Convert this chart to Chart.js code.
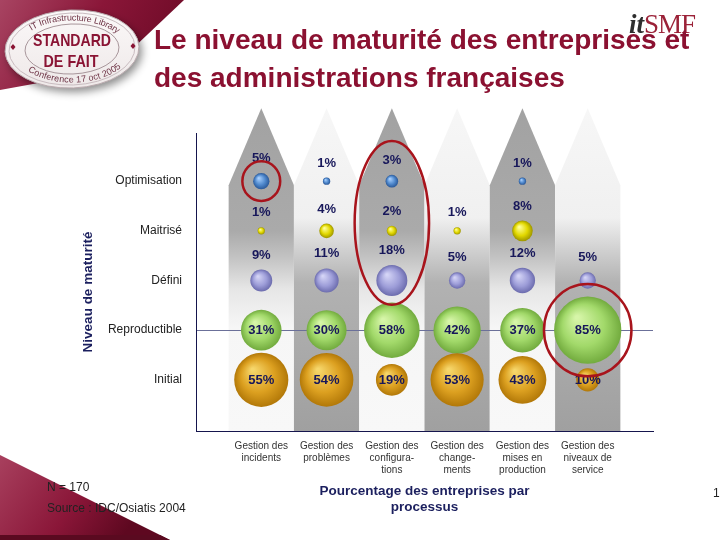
<!DOCTYPE html>
<html><head><meta charset="utf-8">
<script src="https://cdn.jsdelivr.net/npm/chart.js@4.4.0/dist/chart.umd.min.js"></script>
<style>
html,body{margin:0;padding:0;background:#fff;}
#wrap{position:relative;width:720px;height:540px;overflow:hidden;background:#fff;}
canvas{position:absolute;left:0;top:0;}
.t{position:absolute;font-family:"Liberation Sans",Arial,sans-serif;white-space:nowrap;}
#logo{left:629px;top:9px;font-family:"Liberation Serif","DejaVu Serif",serif;font-size:27px;line-height:30px;}
#logo .it{font-weight:bold;font-style:italic;color:#2e2e2e;}
#logo .smf{color:#9b2238;letter-spacing:-1px;}
#title{left:154px;top:21px;font-size:28px;font-weight:bold;line-height:38px;color:#8b1131;}
.note{left:47px;font-size:12px;line-height:14px;color:#222;}
</style></head>
<body>
<div id="wrap">
<canvas id="c" width="720" height="540"></canvas>
<div class="t" id="logo"><span class="it">it</span><span class="smf">SMF</span></div>
<div class="t" id="title">Le niveau de maturité des entreprises et<br>des administrations françaises</div>
<div class="t note" style="top:480px">N = 170</div>
<div class="t note" style="top:501px">Source : IDC/Osiatis 2004</div>
<div class="t note" style="left:713px;top:486px">1</div>
</div>
<script>
// ---- data ----
const categories = [
  ['Gestion des','incidents'],
  ['Gestion des','problèmes'],
  ['Gestion des','configura-','tions'],
  ['Gestion des','change-','ments'],
  ['Gestion des','mises en','production'],
  ['Gestion des','niveaux de','service']
];
const levels = ['Initial','Reproductible','Défini','Maitrisé','Optimisation'];
const optimisation  = [5, 1, 3, null, 1, null];
const maitrise      = [1, 4, 2, 1, 8, null];
const defini        = [9, 11, 18, 5, 12, 5];
const reproductible = [31, 30, 58, 42, 37, 85];
const initial       = [55, 54, 19, 53, 43, 10];

// ---- styling ----
const R_SCALE = 3.65;
const FONT = '"Liberation Sans", Arial, sans-serif';
const NAVY = '#17175a';

function sphere(colors){
  return function(ctx){
    if (ctx.type !== 'data') return colors[1];
    const ch = ctx.chart, xs = ch.scales.x, ys = ch.scales.y, raw = ctx.raw;
    if (!xs || !ys || !raw) return colors[1];
    const x = xs.getPixelForValue(raw.x), y = ys.getPixelForValue(raw.y), r = raw.r;
    if (!isFinite(x) || !isFinite(y) || !(r > 0)) return colors[1];
    const g = ch.ctx.createRadialGradient(x - r*0.32, y - r*0.38, r*0.05, x, y, r);
    g.addColorStop(0, colors[0]);
    g.addColorStop(0.6, colors[1]);
    g.addColorStop(1, colors[2]);
    return g;
  };
}
function points(values, level){
  const out = [];
  values.forEach((v, i) => { if (v != null) out.push({x: i + 1, y: level, r: R_SCALE * Math.sqrt(v), v: v}); });
  return out;
}
const series = [
  {name: 'Initial', values: initial, level: 1, colors: ['#f6d66a', '#dca020', '#b27808'], inside: true},
  {name: 'Reproductible', values: reproductible, level: 2, colors: ['#d6f5a8', '#a2d96a', '#72ab3e'], inside: true},
  {name: 'Défini', values: defini, level: 3, colors: ['#d4d4f6', '#9d9dd8', '#6c6cae'], inside: false},
  {name: 'Maitrisé', values: maitrise, level: 4, colors: ['#ffff9a', '#e2d800', '#9e9600'], inside: false},
  {name: 'Optimisation', values: optimisation, level: 5, colors: ['#a8d0ff', '#4f88cc', '#2a5898'], inside: false}
];

// ---- decoration helpers ----
function arcText(c, txt, cx, cy, a, b, tc, dir){
  const chars = [...txt];
  const widths = chars.map(ch => c.measureText(ch).width);
  const total = widths.reduce((s, w) => s + w, 0);
  const speed = t => Math.hypot(a*Math.sin(t), b*Math.cos(t));
  let t = tc, rem = total/2;
  while (rem > 0){ const d = Math.min(rem, 0.5); t -= dir*d/speed(t); rem -= d; }
  chars.forEach((ch, i) => {
    const w = widths[i];
    t += dir*(w/2)/speed(t);
    const x = cx + a*Math.cos(t), y = cy + b*Math.sin(t);
    const ang = dir > 0 ? Math.atan2(b*Math.cos(t), -a*Math.sin(t)) : Math.atan2(-b*Math.cos(t), a*Math.sin(t));
    c.save(); c.translate(x, y); c.rotate(ang); c.fillText(ch, 0, 0); c.restore();
    t += dir*(w/2)/speed(t);
  });
}
function drawCorners(c){
  c.save();
  let g = c.createLinearGradient(0, 0, 160, 90);
  g.addColorStop(0, '#a84462'); g.addColorStop(0.5, '#8a1638'); g.addColorStop(1, '#6c0a26');
  c.fillStyle = g;
  c.beginPath(); c.moveTo(0,0); c.lineTo(184,0); c.lineTo(110,70); c.lineTo(0,90); c.closePath(); c.fill();
  g = c.createLinearGradient(0, 455, 120, 540);
  g.addColorStop(0, '#a8405e'); g.addColorStop(0.6, '#8a1638'); g.addColorStop(1, '#5e0820');
  c.fillStyle = g;
  c.beginPath(); c.moveTo(0,455); c.lineTo(170,540); c.lineTo(0,540); c.closePath(); c.fill();
  c.fillStyle = '#5a0a20'; c.beginPath(); c.moveTo(0,535); c.lineTo(160,535); c.lineTo(170,540); c.lineTo(0,540); c.closePath(); c.fill();
  // badge
  const cx = 72, cy = 49;
  c.shadowColor = 'rgba(0,0,0,0.45)'; c.shadowBlur = 8; c.shadowOffsetX = 3; c.shadowOffsetY = 4;
  const bg = c.createLinearGradient(0, 10, 0, 90);
  bg.addColorStop(0, '#fbf8f8'); bg.addColorStop(1, '#eee8e8');
  c.fillStyle = bg; c.beginPath(); c.ellipse(cx, cy, 67, 39, -0.04, 0, Math.PI*2); c.fill();
  c.shadowColor = 'transparent'; c.shadowBlur = 0; c.shadowOffsetX = 0; c.shadowOffsetY = 0;
  c.strokeStyle = '#b9a9ad'; c.lineWidth = 1; c.stroke();
  c.beginPath(); c.ellipse(cx, cy, 63, 36, -0.04, 0, Math.PI*2); c.strokeStyle = '#c9bcc0'; c.stroke();
  c.beginPath(); c.ellipse(cx, cy, 47, 25, -0.04, 0, Math.PI*2); c.strokeStyle = '#a8969b'; c.stroke();
  c.fillStyle = '#8a1434';
  [[13,47],[133,46]].forEach(p => { c.beginPath(); c.moveTo(p[0],p[1]-3); c.lineTo(p[0]+2.5,p[1]); c.lineTo(p[0],p[1]+3); c.lineTo(p[0]-2.5,p[1]); c.closePath(); c.fill(); });
  c.textAlign = 'center'; c.textBaseline = 'middle';
  c.font = 'bold 17px ' + FONT;
  c.fillText('STANDARD', cx, 41, 78);
  c.fillText('DE FAIT', cx - 1, 62, 55);
  c.fillStyle = '#6e3446';
  c.font = '9px ' + FONT;
  arcText(c, 'IT Infrastructure Library', cx, cy, 56, 31, Math.PI*1.5 + 0.05, 1);
  arcText(c, 'Conference 17 oct 2005', cx, cy, 56, 31, Math.PI*0.5 - 0.05, -1);
  c.restore();
}

const PEAK = 6.47, SHOULDER = 4.92;
const decorPlugin = {
  id: 'decor',
  beforeDraw(chart){
    const c = chart.ctx, xs = chart.scales.x, ys = chart.scales.y, area = chart.chartArea;
    drawCorners(c);
    c.save();
    for (let i = 0; i < categories.length; i++){
      const x0 = xs.getPixelForValue(i + 0.5), x1 = xs.getPixelForValue(i + 1.5), xm = (x0 + x1)/2;
      const yp = ys.getPixelForValue(PEAK), ysh = ys.getPixelForValue(SHOULDER), yb = area.bottom;
      const g = c.createLinearGradient(0, yp, 0, yb);
      if (i % 2 === 0){
        g.addColorStop(0, '#a2a2a2'); g.addColorStop(0.38, '#aaaaaa'); g.addColorStop(0.46, '#c2c2c2');
        g.addColorStop(0.56, '#e6e6e6'); g.addColorStop(0.68, '#f6f6f6'); g.addColorStop(1, '#f8f8f8');
      } else {
        g.addColorStop(0, '#f7f7f7'); g.addColorStop(0.34, '#f0f0f0'); g.addColorStop(0.44, '#d0d0d0');
        g.addColorStop(0.54, '#b2b2b2'); g.addColorStop(1, '#a0a0a0');
      }
      c.fillStyle = g;
      c.beginPath(); c.moveTo(x0, yb); c.lineTo(x0, ysh); c.lineTo(xm, yp); c.lineTo(x1, ysh); c.lineTo(x1, yb); c.closePath(); c.fill();
    }
    // Reproductible reference line
    const yr = ys.getPixelForValue(2);
    c.strokeStyle = '#6b7099'; c.lineWidth = 1;
    c.beginPath(); c.moveTo(area.left, Math.round(yr) + 0.5); c.lineTo(area.right, Math.round(yr) + 0.5); c.stroke();
    c.restore();
  },
  afterDatasetsDraw(chart){
    const c = chart.ctx, xs = chart.scales.x, ys = chart.scales.y;
    c.save();
    c.fillStyle = NAVY; c.textAlign = 'center'; c.textBaseline = 'middle';
    c.font = 'bold 13px ' + FONT;
    chart.data.datasets.forEach((ds, di) => {
      const meta = chart.getDatasetMeta(di);
      meta.data.forEach((el, j) => {
        const p = ds.data[j], r = p.r;
        const y = ds.inside ? el.y : el.y - r - 15;
        c.fillText(p.v + '%', el.x, y + 0.5);
      });
    });
    // highlight ellipses (data coordinates)
    const marks = [
      {x: 1, y: 5.0, rx: 0.29, ry: 0.40},
      {x: 3, y: 4.16, rx: 0.57, ry: 1.65},
      {x: 6, y: 2.0, rx: 0.67, ry: 0.93}
    ];
    c.strokeStyle = '#a8141c'; c.lineWidth = 2.5;
    marks.forEach(m => {
      const px = xs.getPixelForValue(m.x), py = ys.getPixelForValue(m.y);
      const rx = xs.getPixelForValue(m.x + m.rx) - px, ry = py - ys.getPixelForValue(m.y + m.ry);
      c.beginPath(); c.ellipse(px, py, rx, ry, 0, 0, Math.PI*2); c.stroke();
    });
    c.restore();
  },
  afterDraw(chart){
    const c = chart.ctx, ys = chart.scales.y;
    c.save();
    c.translate(88, (ys.top + ys.bottom)/2 + 10);
    c.rotate(-Math.PI/2);
    c.fillStyle = '#1b1f5e'; c.textAlign = 'center'; c.textBaseline = 'middle';
    c.font = 'bold 13.5px ' + FONT;
    c.fillText('Niveau de maturité', 0, 0);
    c.restore();
  }
};

new Chart(document.getElementById('c'), {
  type: 'bubble',
  data: {
    datasets: series.map(s => ({
      label: s.name,
      data: points(s.values, s.level),
      backgroundColor: sphere(s.colors),
      borderWidth: 0,
      inside: s.inside
    }))
  },
  options: {
    responsive: false,
    animation: false,
    events: [],
    layout: {autoPadding: false, padding: {left: 81, right: 67, top: 133, bottom: 25}},
    plugins: {legend: {display: false}, tooltip: {enabled: false}},
    scales: {
      x: {
        type: 'linear', min: 0, max: 7,
        afterBuildTicks: s => { s.ticks = categories.map((_, i) => ({value: i + 1})); },
        afterFit: s => { s.height = 84; },
        grid: {display: false, drawTicks: false},
        border: {display: true, color: '#15154d', width: 1},
        ticks: {
          autoSkip: false, maxRotation: 0, padding: 9, color: '#333',
          font: {family: FONT, size: 10, lineHeight: 1.2},
          callback: v => categories[v - 1]
        },
        title: {
          display: true, text: ['Pourcentage des entreprises par', 'processus'],
          color: '#1b1f5e', padding: {top: 0, bottom: 0},
          font: {family: FONT, size: 13.5, weight: 'bold', lineHeight: '16px'}
        }
      },
      y: {
        type: 'linear', min: -0.03, max: 5.97,
        afterBuildTicks: s => { s.ticks = levels.map((_, i) => ({value: i + 1})); },
        afterFit: s => { s.width = 115; },
        grid: {display: false, drawTicks: false},
        border: {display: true, color: '#15154d', width: 1},
        ticks: {
          padding: 14, color: '#222',
          font: {family: FONT, size: 12},
          callback: v => levels[v - 1]
        }
      }
    }
  },
  plugins: [decorPlugin]
});
</script>
</body></html>
